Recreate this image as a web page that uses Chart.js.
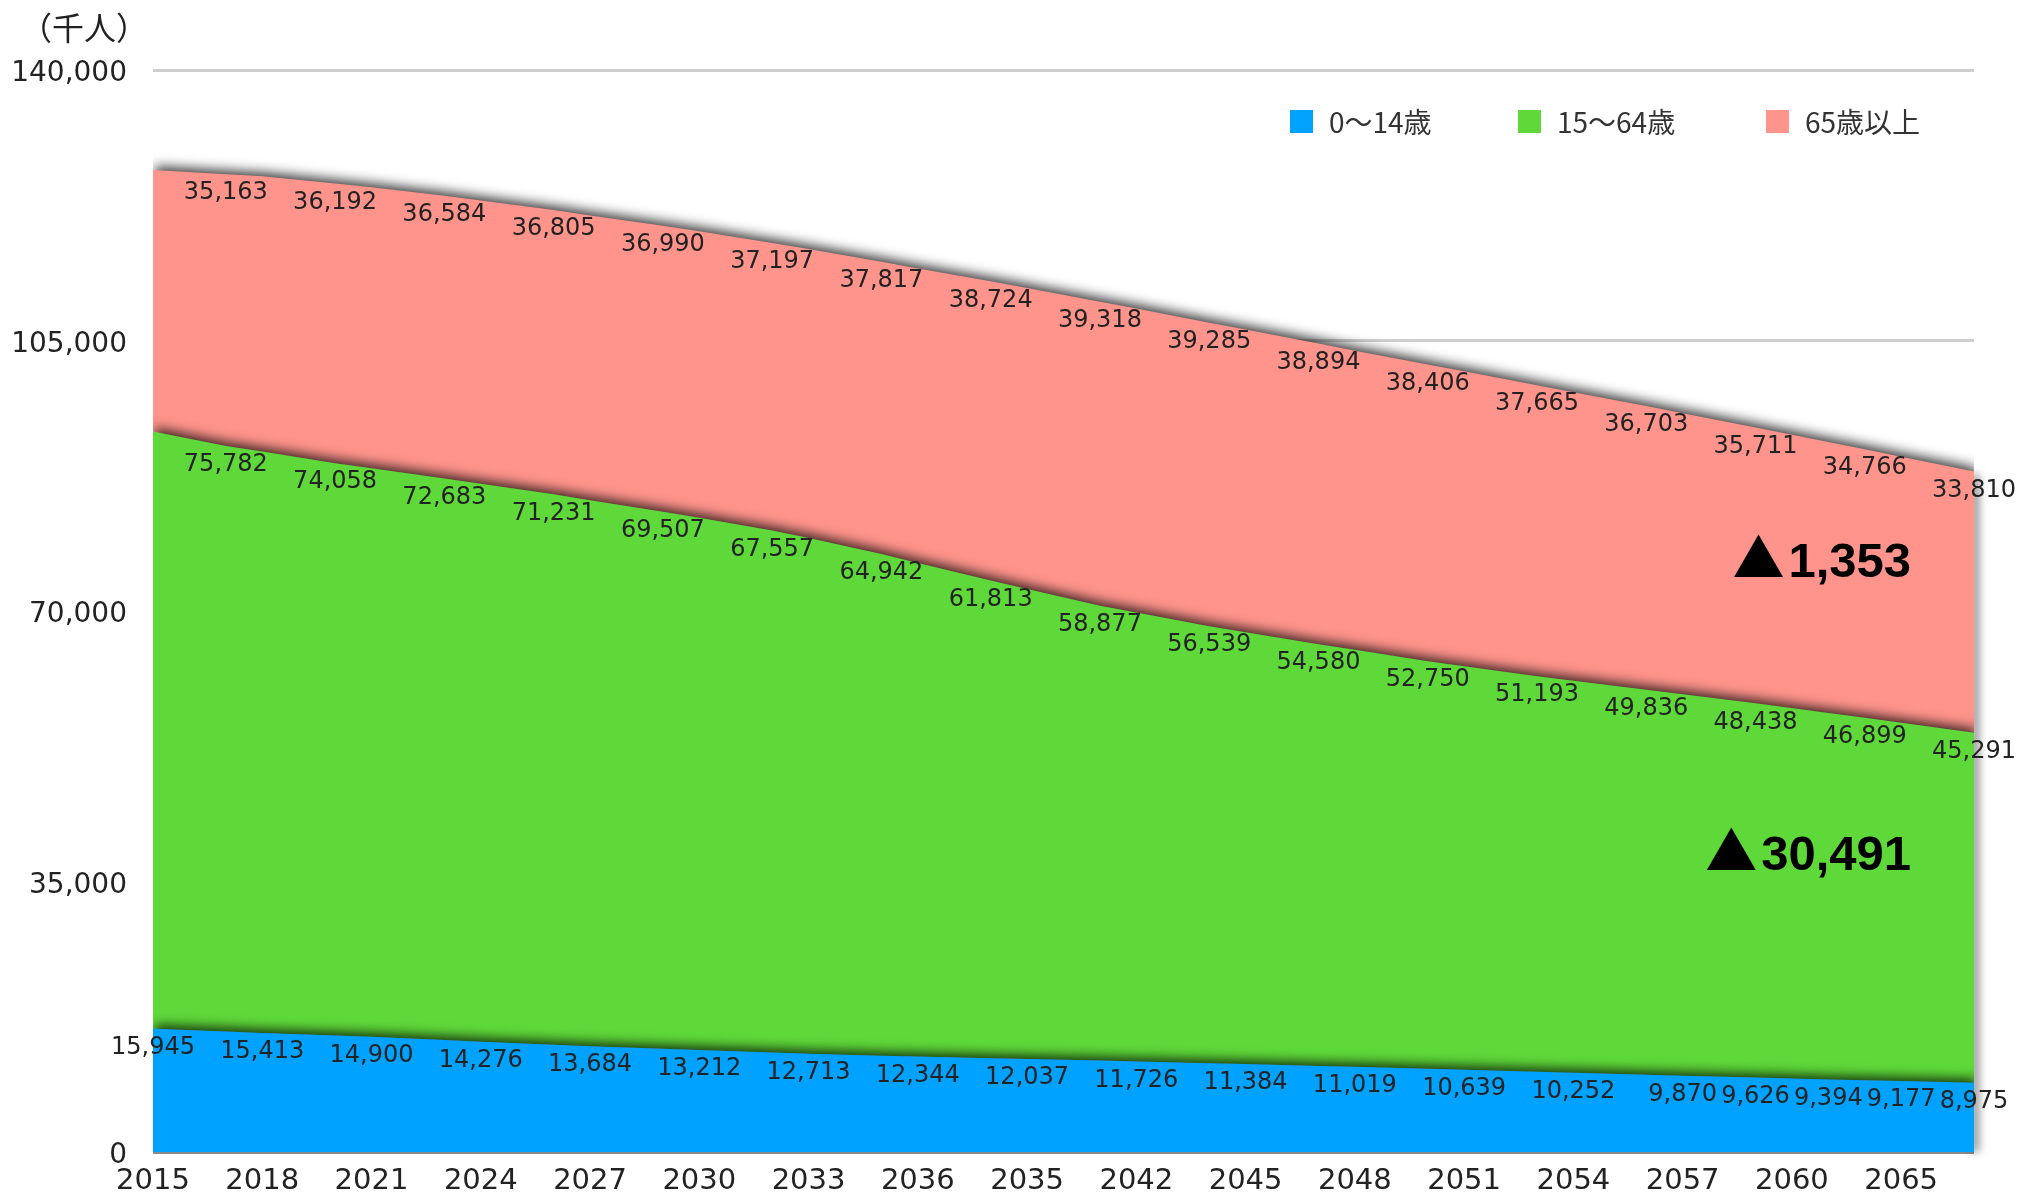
<!DOCTYPE html>
<html lang="ja">
<head>
<meta charset="utf-8">
<title>年齢3区分別人口の推移</title>
<script src="https://cdn.jsdelivr.net/npm/chart.js@4.4.1/dist/chart.umd.min.js"></script>
<style>
  html, body { margin: 0; padding: 0; background: #ffffff; }
  #wrap { width: 2036px; height: 1195px; }
</style>
</head>
<body>
<div id="wrap"><canvas id="chart" width="2036" height="1195"></canvas></div>
<script>
// Population by age group (thousands), 2015–2065
const years = [2015, 2017, 2018, 2020, 2021, 2023, 2024, 2026, 2027, 2029, 2030, 2032,
               2033, 2035, 2036, 2038, 2039, 2041, 2042, 2044, 2045, 2047, 2048, 2050,
               2051, 2053, 2054, 2056, 2057, 2059, 2061, 2062, 2063, 2065];

const youth = [15945, 15592, 15413, 15075, 14900, 14484, 14276, 13879, 13684, 13363, 13212, 12873,
               12713, 12457, 12344, 12135, 12037, 11831, 11726, 11499, 11384, 11143, 11019, 10767,
               10639, 10380, 10252, 9997, 9870, 9626, 9394, 9283, 9177, 8975];

const working = [77282, 75782, 75250, 74058, 73590, 72683, 72210, 71231, 70660, 69507, 68870, 67557,
                 66750, 64942, 63880, 61813, 60820, 58877, 58080, 56539, 55880, 54580, 53970, 52750,
                 52230, 51193, 50740, 49836, 49370, 48438, 47410, 46899, 46360, 45291];

const elderly = [33868, 35163, 35600, 36192, 36350, 36584, 36660, 36805, 36860, 36990, 37080, 37197,
                 37400, 37817, 38120, 38724, 38950, 39318, 39350, 39285, 39190, 38894, 38720, 38406,
                 38170, 37665, 37340, 36703, 36380, 35711, 35080, 34766, 34450, 33810];

// Years whose values are printed on the chart
const youthLabelYears = [2015, 2018, 2021, 2024, 2027, 2030, 2033, 2036, 2039, 2042, 2045,
                         2048, 2051, 2054, 2057, 2059, 2061, 2063, 2065];
const adultLabelYears = [2017, 2020, 2023, 2026, 2029, 2032, 2035, 2038, 2041, 2044, 2047,
                         2050, 2053, 2056, 2059, 2062, 2065];

// Horizontal axis ticks and their captions
const tickYears  = [2015, 2018, 2021, 2024, 2027, 2030, 2033, 2036, 2039, 2042, 2045,
                    2048, 2051, 2054, 2057, 2060, 2063];
const tickLabels = ['2015', '2018', '2021', '2024', '2027', '2030', '2033', '2036', '2035', '2042', '2045',
                    '2048', '2051', '2054', '2057', '2060', '2065'];

const seriesNames  = ['0〜14歳', '15〜64歳', '65歳以上'];
const seriesColors = ['#00a2ff', '#5fd93a', '#ff948c'];
const unitLabel = '（千人）';

const valueLabelYears = [youthLabelYears, adultLabelYears, adultLabelYears];

// Decline from the first printed value to 2065
const firstAdult = years.indexOf(adultLabelYears[0]);
const last = years.length - 1;
const elderlyDrop = elderly[firstAdult] - elderly[last];
const workingDrop = working[firstAdult] - working[last];

const fmt = n => n.toLocaleString('en-US');

// Soft drop shadow under the stacked areas
const areaShadow = {
  id: 'areaShadow',
  beforeDatasetsDraw(chart) {
    const ctx = chart.ctx;
    const area = chart.chartArea;
    const topMeta = chart.getDatasetMeta(2);
    const end = topMeta.data[topMeta.data.length - 1];
    ctx.save();
    ctx.filter = 'blur(4px)';
    ctx.fillStyle = 'rgba(0,0,0,0.45)';
    ctx.fillRect(end.x - 3, end.y + 3, 8, area.bottom - end.y - 3);
    ctx.restore();

    ctx.save();
    ctx.shadowColor = 'rgba(0,0,0,0.75)';
    ctx.shadowBlur = 12;
    ctx.shadowOffsetX = 2;
    ctx.shadowOffsetY = -4;
  },
  afterDatasetsDraw(chart) {
    chart.ctx.restore();
  }
};

// Printed values along each band
const valueLabels = {
  id: 'valueLabels',
  afterDatasetsDraw(chart) {
    const ctx = chart.ctx;
    ctx.save();
    ctx.font = '24px "DejaVu Sans"';
    ctx.fillStyle = '#222222';
    ctx.textAlign = 'center';
    ctx.textBaseline = 'middle';
    chart.data.datasets.forEach((ds, d) => {
      const meta = chart.getDatasetMeta(d);
      meta.data.forEach((pt, i) => {
        if (valueLabelYears[d].includes(years[i])) {
          ctx.fillText(fmt(ds.data[i]), pt.x, pt.y + 19);
        }
      });
    });
    ctx.restore();
  }
};

// Unit caption, legend row and the decline notes
const overlay = {
  id: 'overlay',
  afterDraw(chart) {
    const ctx = chart.ctx;
    const area = chart.chartArea;
    const yScale = chart.scales.y;
    ctx.save();

    // unit caption
    ctx.font = '32px "Noto Sans CJK JP"';
    ctx.fillStyle = '#222222';
    ctx.textAlign = 'left';
    ctx.textBaseline = 'middle';
    ctx.fillText(unitLabel, 20, 28);

    // legend
    const boxX = [1290, 1518, 1766];
    const legendY = 121;
    ctx.font = '28px "Noto Sans CJK JP"';
    chart.data.datasets.forEach((ds, d) => {
      ctx.fillStyle = ds.backgroundColor;
      ctx.fillRect(boxX[d], legendY - 11, 23, 23);
      ctx.fillStyle = '#333333';
      ctx.fillText(ds.label, boxX[d] + 39, legendY + 1);
    });

    // decline notes
    const notes = [
      { text: fmt(elderlyDrop), value: 74400 },
      { text: fmt(workingDrop), value: 36500 }
    ];
    const rightX = area.right - 63;
    notes.forEach(n => {
      const baseY = yScale.getPixelForValue(n.value);
      ctx.fillStyle = '#000000';
      ctx.textBaseline = 'alphabetic';
      ctx.textAlign = 'right';
      ctx.font = 'bold 49px "Liberation Sans"';
      ctx.fillText(n.text, rightX, baseY);
      const w = ctx.measureText(n.text).width;

      ctx.textAlign = 'left';
      ctx.font = '100px "Noto Sans CJK JP"';
      const m100 = ctx.measureText('▲');
      const gw100 = m100.actualBoundingBoxLeft + m100.actualBoundingBoxRight;
      const size = 100 * 49 / gw100;
      ctx.font = size + 'px "Noto Sans CJK JP"';
      const m = ctx.measureText('▲');
      const gw = m.actualBoundingBoxLeft + m.actualBoundingBoxRight;
      const left = rightX - w - 5 - gw;
      ctx.fillText('▲', left + m.actualBoundingBoxLeft, baseY - m.actualBoundingBoxDescent);
    });
    ctx.restore();
  }
};

const datasets = [youth, working, elderly].map((values, d) => ({
  label: seriesNames[d],
  data: values,
  backgroundColor: seriesColors[d],
  borderColor: seriesColors[d],
  borderWidth: 0,
  pointRadius: 0,
  pointHoverRadius: 0,
  tension: 0,
  fill: d === 0 ? 'origin' : '-1'
}));

new Chart(document.getElementById('chart'), {
  type: 'line',
  data: { labels: years, datasets },
  options: {
    responsive: false,
    devicePixelRatio: 1,
    animation: false,
    events: [],
    locale: 'en-US',
    layout: { padding: { left: 0, right: 62, top: 70.2, bottom: 0 } },
    font: { family: '"DejaVu Sans"' },
    plugins: {
      legend: { display: false },
      tooltip: { enabled: false },
      title: { display: false }
    },
    scales: {
      x: {
        type: 'linear',
        min: years[0],
        max: years[last],
        grid: { display: false, drawTicks: false },
        border: { display: false },
        afterBuildTicks: s => { s.ticks = tickYears.map(v => ({ value: v })); },
        afterFit: s => { s.height = 43; },
        ticks: {
          autoSkip: false,
          maxRotation: 0,
          padding: 12,
          color: '#222222',
          font: { family: '"DejaVu Sans"', size: 29 },
          callback: (v, i) => tickLabels[i]
        }
      },
      y: {
        stacked: true,
        min: 0,
        max: 140000,
        grid: {
          drawTicks: false,
          lineWidth: 3,
          color: c => c.tick && c.tick.value === 0 ? '#8a8a8a' : '#cfcfcf'
        },
        border: { display: false },
        afterFit: s => { s.width = 153; },
        ticks: {
          stepSize: 35000,
          padding: 26,
          labelOffset: 4,
          color: '#222222',
          font: { family: '"DejaVu Sans"', size: 28 }
        }
      }
    }
  },
  plugins: [areaShadow, valueLabels, overlay]
});
</script>
</body>
</html>
